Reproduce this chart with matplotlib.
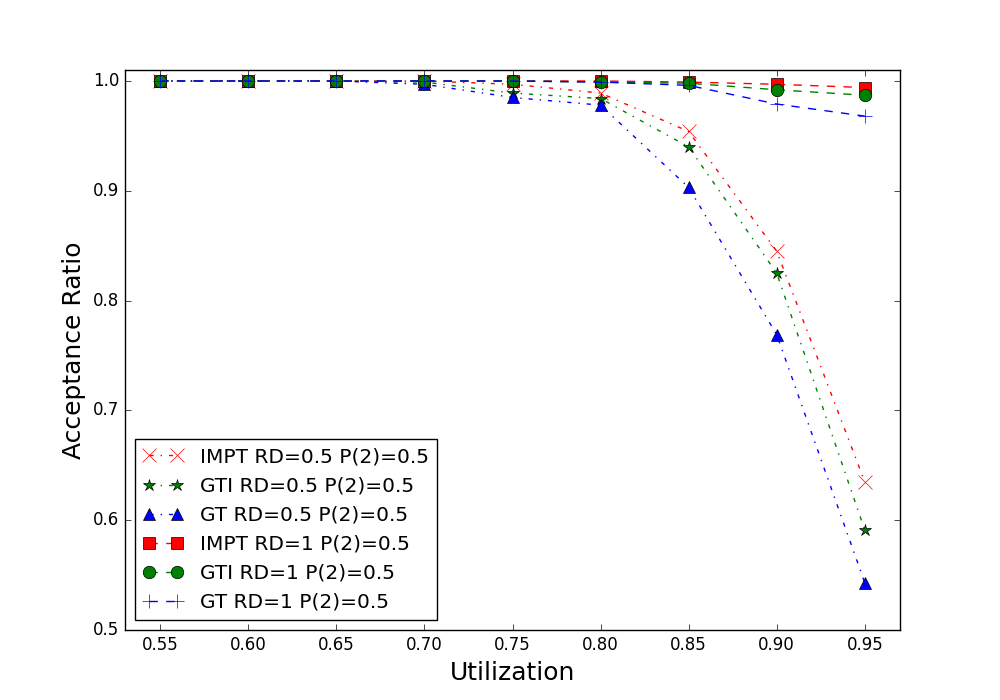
import matplotlib
matplotlib.use('Agg')
import matplotlib.pyplot as plt

plt.style.use('classic')

util = [0.55, 0.60, 0.65, 0.70, 0.75, 0.80, 0.85, 0.90, 0.95]

impt_05 = [1.0, 1.0, 1.0, 1.0, 0.997, 0.989, 0.954, 0.845, 0.635]
gti_05 = [1.0, 1.0, 1.0, 0.999, 0.989, 0.984, 0.940, 0.825, 0.591]
gt_05 = [1.0, 1.0, 1.0, 0.997, 0.985, 0.978, 0.903, 0.769, 0.543]
impt_1 = [1.0, 1.0, 1.0, 1.0, 1.0, 1.0, 0.999, 0.997, 0.994]
gti_1 = [1.0, 1.0, 1.0, 1.0, 1.0, 0.999, 0.998, 0.992, 0.987]
gt_1 = [1.0, 1.0, 1.0, 1.0, 1.0, 0.999, 0.996, 0.979, 0.968]

fig = plt.figure(figsize=(10, 7), dpi=100)
ax = fig.add_subplot(111)

ax.plot(util, impt_05, 'rx-.', markersize=10, label='IMPT RD=0.5 P(2)=0.5')
ax.plot(util, gti_05, 'g*-.', markersize=9, label='GTI RD=0.5 P(2)=0.5')
ax.plot(util, gt_05, 'b^-.', markersize=9, label='GT RD=0.5 P(2)=0.5')
ax.plot(util, impt_1, 'rs--', markersize=9, label='IMPT RD=1 P(2)=0.5')
ax.plot(util, gti_1, 'go--', markersize=9, label='GTI RD=1 P(2)=0.5')
ax.plot(util, gt_1, 'b+--', markersize=10, label='GT RD=1 P(2)=0.5')

ax.set_xlim(0.53, 0.97)
ax.set_ylim(0.5, 1.01)
ax.set_xticks(util)
ax.set_xticklabels(['%.2f' % u for u in util])
ax.set_xlabel('Utilization', fontsize=18)
ax.set_ylabel('Acceptance Ratio', fontsize=18)

ax.legend(loc='lower left', fontsize=14.5)

fig.savefig('out.png', dpi=100)
